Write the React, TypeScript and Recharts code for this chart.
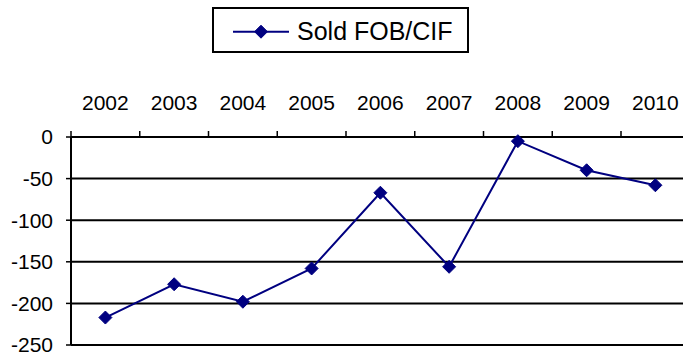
import { CartesianGrid, Legend, Line, LineChart, XAxis, YAxis } from "recharts";

const years = [2002, 2003, 2004, 2005, 2006, 2007, 2008, 2009, 2010];
const soldFobCif = [-217, -177, -198, -158, -67, -156, -5, -40, -58];
const yTicks = [0, -50, -100, -150, -200, -250];

const NAVY = "#000080";
const FONT = "'Liberation Sans', Arial, sans-serif";
const TICK_SIZE = 6;
const TICK_MARGIN = 21;

const data = years.map((year, i) => ({ year, value: soldFobCif[i] }));

// tick marks go between the years, labels sit on the years
const edgeTicks = [...years.map((y) => y - 0.5), years[years.length - 1] + 0.5];
const xTicks = [...edgeTicks, ...years].sort((a, b) => a - b);

function Diamond({ cx, cy }: { cx?: number; cy?: number }) {
  if (cx == null || cy == null) return null;
  const w = 6.5;
  const h = 6.5;
  return (
    <polygon
      points={`${cx},${cy - h} ${cx + w},${cy} ${cx},${cy + h} ${cx - w},${cy}`}
      fill={NAVY}
      stroke={NAVY}
    />
  );
}

function YearTick({ x, y, payload }: any) {
  const v = payload.value as number;
  if (Number.isInteger(v)) {
    return (
      <text x={x} y={y} textAnchor="middle" fontSize={21} fontFamily={FONT} fill="#000">
        {v}
      </text>
    );
  }
  const axisY = y + TICK_MARGIN + TICK_SIZE;
  return <line x1={x} x2={x} y1={axisY - TICK_SIZE} y2={axisY} stroke="#000" strokeWidth={1.5} />;
}

function LegendBox({ payload }: any) {
  const entry = payload?.[0];
  return (
    <div
      style={{
        width: 257,
        height: 46,
        boxSizing: "border-box",
        border: "2px solid #000",
        background: "#fff",
      }}
    >
      <svg width={253} height={42} style={{ display: "block" }}>
        <line x1={19} x2={75} y1={22.7} y2={22.7} stroke={NAVY} strokeWidth={2} />
        <Diamond cx={47} cy={22.7} />
        <text x={83} y={30.8} fontSize={25} fontFamily={FONT} fill="#000">
          {entry?.value}
        </text>
      </svg>
    </div>
  );
}

export default function App() {
  return (
    <div
      style={{
        position: "fixed",
        left: 0,
        top: 0,
        width: 683,
        height: 355,
        overflow: "hidden",
        background: "#fff",
      }}
    >
      <LineChart
        width={700}
        height={355}
        data={data}
        margin={{ top: 0, right: 10.25, bottom: 10, left: 0 }}
      >
        <CartesianGrid vertical={false} stroke="#000" strokeWidth={2} />
        <XAxis
          dataKey="year"
          type="number"
          orientation="top"
          domain={[2001.5, 2010.5]}
          ticks={xTicks}
          interval={0}
          height={137}
          tickLine={false}
          tickSize={TICK_SIZE}
          tickMargin={TICK_MARGIN}
          tick={<YearTick />}
          axisLine={{ stroke: "#000", strokeWidth: 2 }}
        />
        <YAxis
          domain={[-250, 0]}
          ticks={yTicks}
          interval={0}
          width={71}
          tickSize={5}
          tickMargin={13}
          tickLine={{ stroke: "#000", strokeWidth: 1.5 }}
          axisLine={{ stroke: "#000", strokeWidth: 2 }}
          tick={{ fill: "#000", fontSize: 21, fontFamily: FONT }}
        />
        <Legend
          layout="horizontal"
          verticalAlign="middle"
          align="center"
          wrapperStyle={{ top: 7, left: 212, width: 257, height: 46 }}
          content={(props: any) => <LegendBox payload={props.payload} />}
        />
        <Line
          type="linear"
          dataKey="value"
          name="Sold FOB/CIF"
          stroke={NAVY}
          strokeWidth={2}
          dot={(props: any) => <Diamond key={props.index} cx={props.cx} cy={props.cy} />}
          activeDot={false}
          isAnimationActive={false}
        />
      </LineChart>
    </div>
  );
}
